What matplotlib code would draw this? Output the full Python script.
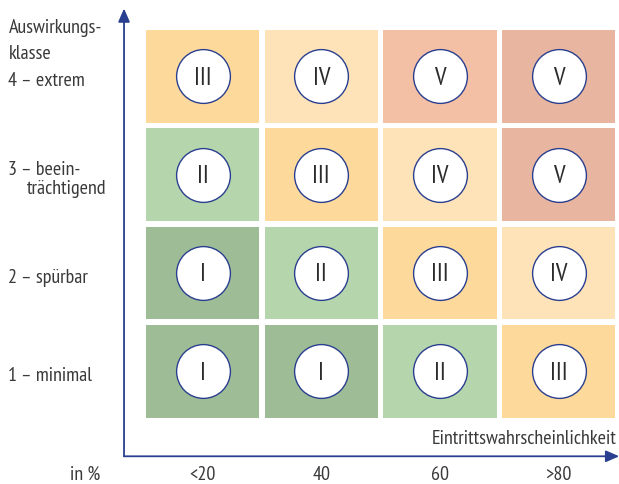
import matplotlib.pyplot as plt
from matplotlib import font_manager
from matplotlib.patches import Rectangle

# ---------------- DATA ----------------
x_labels = ["<20", "40", "60", ">80"]
y_labels = ["1 – minimal", "2 – spürbar", "3 – beein-\nträchtigend", "4 – extrem"]
# rows from bottom (1) to top (4)
classes = [
    ["I", "I", "II", "III"],
    ["I", "II", "III", "IV"],
    ["II", "III", "IV", "V"],
    ["III", "IV", "V", "V"],
]
cell_colors = [
    ["#9ebc96", "#9ebc96", "#b5d6ad", "#fdd99b"],
    ["#9ebc96", "#b5d6ad", "#fdd99b", "#fee3b9"],
    ["#b5d6ad", "#fdd99b", "#fee3b9", "#e8b6a0"],
    ["#fdd99b", "#fee3b9", "#f3bfa5", "#e8b6a0"],
]
y_title = "Auswirkungs-\nklasse"
x_title = "Eintrittswahrscheinlichkeit"
x_unit = "in %"
# --------------------------------------

names = {f.name for f in font_manager.fontManager.ttflist}
for cand in ["PT Sans Narrow", "Roboto Condensed", "Open Sans Condensed"]:
    if cand in names:
        plt.rcParams["font.family"] = [cand, "DejaVu Sans"]
        break
else:
    plt.rcParams["font.family"] = ["DejaVu Sans"]
    plt.rcParams["font.stretch"] = "condensed"

TEXT = "#3a3a3a"
BLUE = "#2a3f8f"
FS = 14.5
W, H = 619, 485

fig = plt.figure(figsize=(W / 100, H / 100), dpi=100)
# one data unit = one cell (incl. gap)
ax = fig.add_axes([143.25 / W, (H - 421.5) / H, 474.75 / W, 393.3 / H])
ax.set_xlim(0, 4)
ax.set_ylim(0, 4)
ax.axis("off")

gap_x, gap_y = 5.5 / 118.7, 5.5 / 98.3
for r, row in enumerate(classes):
    for c, lab in enumerate(row):
        ax.add_patch(Rectangle((c + gap_x / 2, r + gap_y / 2), 1 - gap_x, 1 - gap_y,
                               facecolor=cell_colors[r][c], edgecolor="none"))
        ax.scatter(c + 0.5, r + 0.5, s=1500, facecolor="white", edgecolor=BLUE,
                   linewidth=1.0, zorder=3)
        ax.text(c + 0.5, r + 0.49, lab, ha="center", va="center", fontsize=18,
                color="#2b2b2b", zorder=4)

# axes with arrows
x_axis_y = -0.364
y_axis_x = -0.162
ax.annotate("", xy=(4.01, x_axis_y), xytext=(y_axis_x, x_axis_y),
            arrowprops=dict(arrowstyle="-|>,head_length=0.8,head_width=0.35",
                            color=BLUE, lw=1.3, shrinkA=0, shrinkB=0),
            annotation_clip=False)
ax.annotate("", xy=(y_axis_x, 4.19), xytext=(y_axis_x, x_axis_y),
            arrowprops=dict(arrowstyle="-|>,head_length=0.8,head_width=0.35",
                            color=BLUE, lw=1.3, shrinkA=0, shrinkB=0),
            annotation_clip=False)

# labels
for c, lab in enumerate(x_labels):
    ax.text(c + 0.5, -0.545, lab, ha="center", va="center", fontsize=FS, color=TEXT, clip_on=False)
ax.text(-0.49, -0.545, x_unit, ha="center", va="center", fontsize=FS, color=TEXT, clip_on=False)
ax.text(3.99, -0.18, x_title, ha="right", va="center", fontsize=FS, color=TEXT, clip_on=False)

line_h = 19.5 / 98.3
for r, lab in enumerate(y_labels):
    lines = lab.split("\n")
    y0 = r + 0.46 + (len(lines) - 1) * line_h / 2
    for k, line in enumerate(lines):
        x = -1.137 if k == 0 else -0.979
        ax.text(x, y0 - k * line_h, line, ha="left", va="center", fontsize=FS,
                color=TEXT, clip_on=False)
ax.text(-1.13, 3.87, y_title, ha="left", va="center", fontsize=FS, color=TEXT,
        linespacing=1.55, clip_on=False)

fig.savefig("out.png", dpi=100)
